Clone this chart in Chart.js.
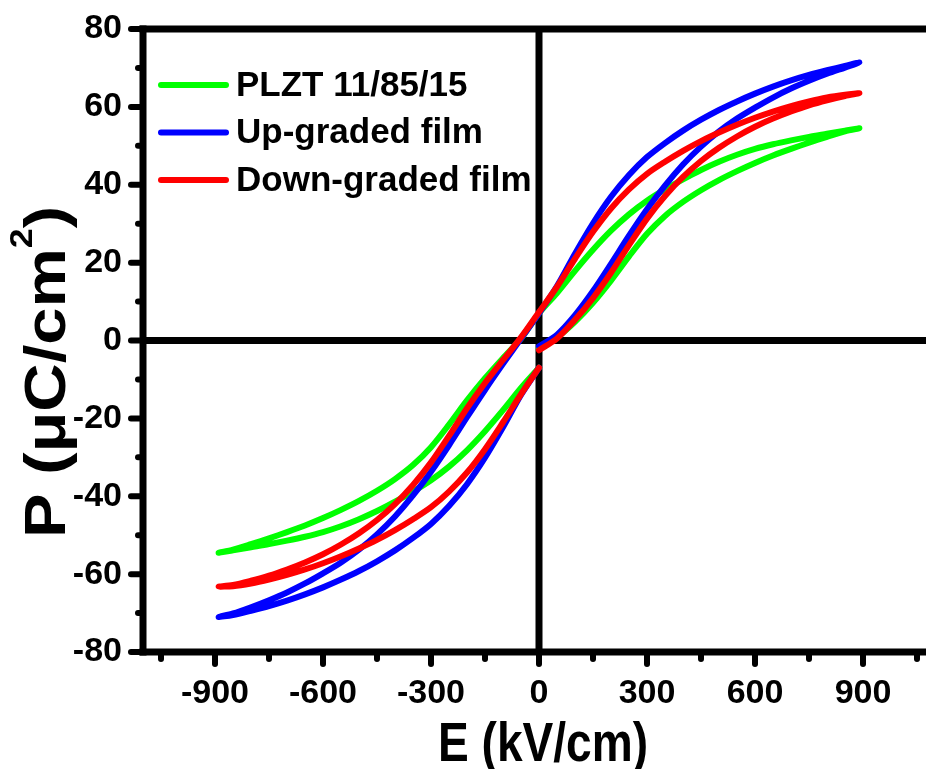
<!DOCTYPE html>
<html>
<head>
<meta charset="utf-8">
<script src="https://cdn.jsdelivr.net/npm/chart.js@4.4.0/dist/chart.umd.min.js"></script>
<style>
  html, body { margin: 0; padding: 0; background: #fff; overflow: hidden; }
  canvas { display: block; }
</style>
</head>
<body>
<canvas id="loops" width="945" height="769"></canvas>
<script>
// field grids (kV/cm)
const E_POS = [0, 50, 100, 150, 200, 250, 300, 350, 400, 450, 500, 550, 600, 650, 700, 750, 800, 850, 890];
const E_NEG = [-890, -850, -800, -750, -700, -650, -600, -550, -500, -450, -400, -350, -300, -250, -200, -150, -100, -50, 0];

// PLZT 11/85/15
const plztUpRight = [7, 12.2, 17.9, 23.3, 28.2, 32.4, 35.9, 38.8, 41.4, 43.8, 45.9, 47.7, 49.2, 50.4, 51.4, 52.3, 53.1, 53.9, 54.5];
const plztUpLeft  = [-54.5, -53.7, -52.3, -50.8, -49.2, -47.5, -45.6, -43.5, -41.2, -38.6, -35.6, -32, -27.4, -21.6, -15.4, -9.7, -4.5, 0.5, 7];
const plztLoRight = [-2, 0.8, 4.8, 9.7, 15.4, 21.6, 27.4, 32, 35.6, 38.6, 41.2, 43.5, 45.6, 47.5, 49.2, 50.8, 52.3, 53.7, 54.5];
const plztLoLeft  = [-54.5, -53.9, -53.1, -52.3, -51.4, -50.4, -49.2, -47.7, -45.9, -43.8, -41.4, -38.8, -35.9, -32.4, -28.2, -23.3, -17.9, -12.2, -7];

// Up-graded film
const upUpRight = [7, 14, 22.3, 30.1, 36.9, 42.5, 47.1, 50.7, 53.9, 56.7, 59.2, 61.4, 63.4, 65.2, 66.8, 68.2, 69.4, 70.5, 71.4];
const upUpLeft  = [-71, -70.1, -68.5, -66.7, -64.7, -62.4, -59.8, -57, -53.7, -49.8, -45.2, -39.8, -33.7, -26.9, -19.7, -12.7, -6, 0.5, 7];
const upLoRight = [-1.5, 1.5, 6.5, 12.7, 19.7, 26.9, 33.7, 39.8, 45.2, 49.8, 53.7, 57, 59.8, 62.4, 64.7, 66.7, 68.5, 70.1, 71.4];
const upLoLeft  = [-71, -70.5, -69.4, -68.2, -66.8, -65.2, -63.4, -61.4, -59.2, -56.7, -53.9, -50.7, -47.1, -42.5, -36.9, -30.1, -22.3, -14, -7];

// Down-graded film
const downUpRight = [7.3, 13.8, 21, 27.9, 33.9, 38.8, 42.8, 45.9, 48.7, 51.2, 53.4, 55.4, 57.2, 58.8, 60.2, 61.4, 62.4, 63.1, 63.5];
const downUpLeft  = [-63.2, -62.8, -61.7, -60.4, -58.8, -57, -54.9, -52.4, -49.5, -46.1, -42, -37.1, -31.3, -24.5, -17.4, -10.9, -5, 0.8, 7.3];
const downLoRight = [-2.5, 0.5, 5.3, 10.9, 17.4, 24.5, 31.3, 37.1, 42, 46.1, 49.5, 52.4, 54.9, 57, 58.8, 60.4, 61.7, 62.8, 63.5];
const downLoLeft  = [-63.2, -63.1, -62.4, -61.4, -60.2, -58.8, -57.2, -55.4, -53.4, -51.2, -48.7, -45.9, -42.8, -38.8, -33.9, -27.9, -21, -13.8, -7];

const LABELS = ["PLZT 11/85/15", "Up-graded film", "Down-graded film"];
const COLORS = ["#00ff00", "#0000ff", "#ff0000"];

const X_MAJOR = [-900, -600, -300, 0, 300, 600, 900];
const X_MINOR = [-1050, -750, -450, -150, 150, 450, 750, 1050];
const Y_MAJOR = [-80, -60, -40, -20, 0, 20, 40, 60, 80];
const Y_MINOR = [-70, -50, -30, -10, 10, 30, 50, 70];

const X_TITLE = "E (kV/cm)";
const Y_TITLE = ["P (\u03bcC/cm", "2", ")"];

const FONT = "'Liberation Sans', Arial, sans-serif";

// loop: start at E=0 going up to +Emax, back down to -Emax, up to 0 again
function buildLoop(loRight, upRight, upLeft, loLeft) {
    const pts = [];
    const push = (x, y) => {
        const last = pts[pts.length - 1];
        if (last && last.x === x && last.y === y) return;
        pts.push({ x, y });
    };
    E_POS.forEach((e, i) => push(e, loRight[i]));
    for (let i = E_POS.length - 1; i >= 0; i--) push(E_POS[i], upRight[i]);
    for (let i = E_NEG.length - 1; i >= 0; i--) push(E_NEG[i], upLeft[i]);
    E_NEG.forEach((e, i) => push(e, loLeft[i]));
    return pts;
}

const loops = [
    buildLoop(plztLoRight, plztUpRight, plztUpLeft, plztLoLeft),
    buildLoop(upLoRight, upUpRight, upUpLeft, upLoLeft),
    buildLoop(downLoRight, downUpRight, downUpLeft, downLoLeft)
];

/* ===========================
   AXES, TICKS, TITLES
=========================== */

const framePlugin = {
    id: "frame",
    beforeDatasetsDraw(chart) {
        const { ctx, chartArea: a, scales: { x, y } } = chart;
        ctx.save();
        ctx.strokeStyle = "#000";

        const seg = (x1, y1, x2, y2) => {
            ctx.beginPath();
            ctx.moveTo(x1, y1);
            ctx.lineTo(x2, y2);
            ctx.stroke();
        };

        // ticks
        ctx.lineWidth = 6;
        ctx.lineCap = "round";
        X_MAJOR.forEach(v => { const p = x.getPixelForValue(v); seg(p, a.bottom, p, a.bottom + 12); });
        X_MINOR.forEach(v => { const p = x.getPixelForValue(v); seg(p, a.bottom, p, a.bottom + 7); });
        Y_MAJOR.forEach(v => { const p = y.getPixelForValue(v); seg(a.left, p, a.left - 12, p); });
        Y_MINOR.forEach(v => { const p = y.getPixelForValue(v); seg(a.left, p, a.left - 5, p); });

        // frame + zero lines
        ctx.lineWidth = 7;
        ctx.lineCap = "butt";
        seg(a.left, a.top - 3.5, a.left, a.bottom + 3.5);
        seg(a.left - 3.5, a.bottom, chart.width, a.bottom);
        seg(a.left - 3.5, a.top, chart.width, a.top);
        const x0 = x.getPixelForValue(0);
        const y0 = y.getPixelForValue(0);
        seg(x0, a.top, x0, a.bottom);
        seg(a.left, y0, a.right, y0);
        ctx.restore();
    },
    afterDraw(chart) {
        const { ctx } = chart;
        ctx.save();
        ctx.fillStyle = "#000";

        // x title
        ctx.font = "bold 56px " + FONT;
        ctx.textBaseline = "alphabetic";
        ctx.textAlign = "left";
        const wx = ctx.measureText(X_TITLE).width;
        ctx.save();
        ctx.translate(438, 761);
        ctx.scale(210 / wx, 1);
        ctx.fillText(X_TITLE, 0, 0);
        ctx.restore();

        // y title with superscript
        const big = "bold 58px " + FONT;
        const small = "bold 31px " + FONT;
        ctx.font = big;
        const w1 = ctx.measureText(Y_TITLE[0]).width;
        const w3 = ctx.measureText(Y_TITLE[2]).width;
        ctx.font = small;
        const w2 = ctx.measureText(Y_TITLE[1]).width;
        const total = w1 + w2 + w3;
        ctx.save();
        ctx.translate(65, 538);
        ctx.rotate(-Math.PI / 2);
        ctx.scale(332 / total, 1);
        ctx.font = big;
        ctx.fillText(Y_TITLE[0], 0, 0);
        ctx.font = small;
        ctx.fillText(Y_TITLE[1], w1, -33);
        ctx.font = big;
        ctx.fillText(Y_TITLE[2], w1 + w2, 0);
        ctx.restore();

        // legend
        ctx.font = "bold 35px " + FONT;
        ctx.textBaseline = "middle";
        ctx.lineWidth = 6;
        ctx.lineCap = "round";
        chart.data.datasets.forEach((ds, i) => {
            const yy = 85 + i * 47.5;
            ctx.strokeStyle = ds.borderColor;
            ctx.beginPath();
            ctx.moveTo(161, yy);
            ctx.lineTo(226, yy);
            ctx.stroke();
            ctx.fillText(ds.label, 236, yy + 1);
        });
        ctx.restore();
    }
};

const ctx = document.getElementById("loops").getContext("2d");

new Chart(ctx, {
    type: "scatter",
    data: {
        datasets: loops.map((pts, i) => ({
            label: LABELS[i],
            data: pts,
            showLine: true,
            borderColor: COLORS[i],
            backgroundColor: COLORS[i],
            borderWidth: 6,
            borderCapStyle: "round",
            borderJoinStyle: "round",
            pointRadius: 0,
            tension: 0.3,
            order: 2 - i
        }))
    },
    options: {
        responsive: false,
        animation: false,
        layout: { padding: { top: 29, right: 10, left: 0, bottom: 0 } },
        plugins: {
            legend: { display: false },
            tooltip: { enabled: false }
        },
        scales: {
            x: {
                type: "linear",
                min: -1100,
                max: 1100,
                afterBuildTicks: s => { s.ticks = X_MAJOR.map(v => ({ value: v })); },
                afterFit: s => {
                    s.height = 117;
                    s.paddingLeft = 0;
                    s.paddingRight = 0;
                },
                grid: { display: false, drawTicks: false },
                border: { display: false },
                ticks: {
                    autoSkip: false,
                    maxRotation: 0,
                    padding: 21,
                    color: "#000",
                    font: { family: FONT, size: 34, weight: "bold" }
                }
            },
            y: {
                type: "linear",
                min: -80,
                max: 80,
                afterBuildTicks: s => { s.ticks = Y_MAJOR.map(v => ({ value: v })); },
                afterFit: s => {
                    s.width = 143;
                    s.paddingTop = 0;
                    s.paddingBottom = 0;
                },
                grid: { display: false, drawTicks: false },
                border: { display: false },
                ticks: {
                    padding: 21,
                    color: "#000",
                    font: { family: FONT, size: 34, weight: "bold" }
                }
            }
        }
    },
    plugins: [framePlugin]
});
</script>
</body>
</html>
